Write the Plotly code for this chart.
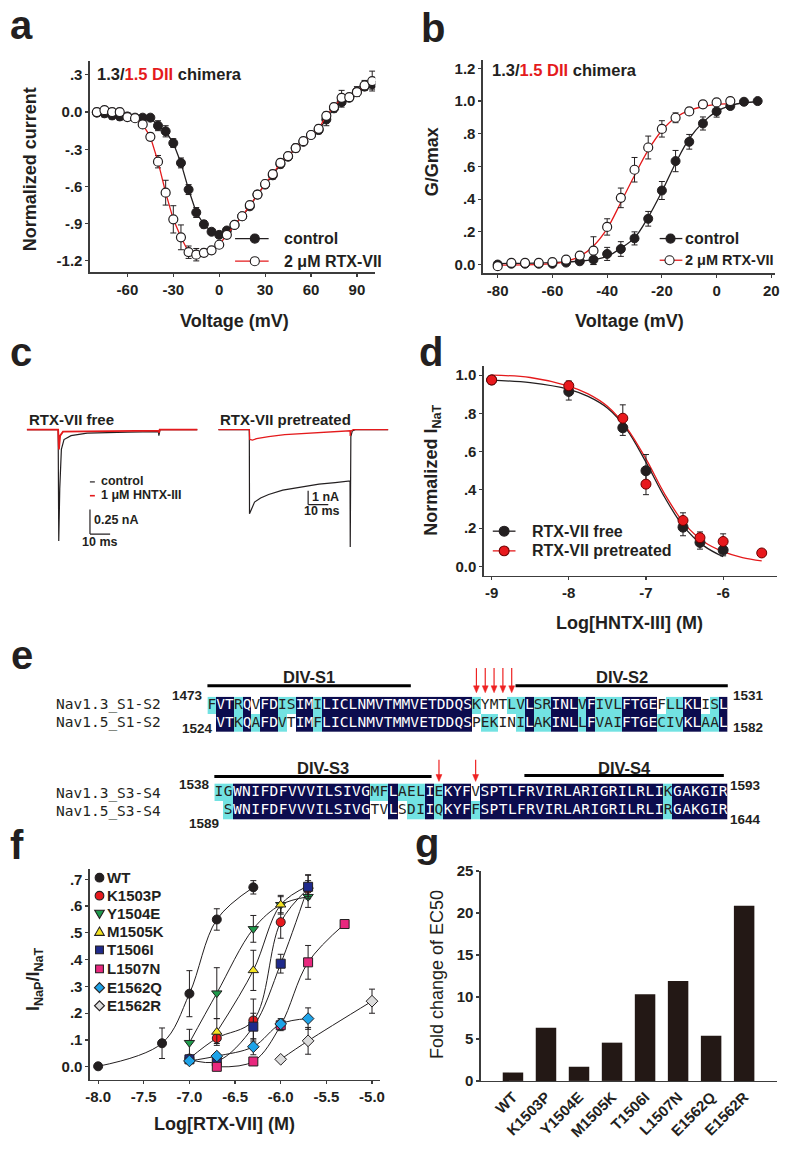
import plotly.graph_objects as go

W, H = 795, 1151
FONT = "Liberation Sans, Arial, Helvetica, sans-serif"
MONO = "DejaVu Sans Mono, Liberation Mono, monospace"
INK = "#231f20"
AXC = "#3c3c3c"
RED = "#e41a1c"
NAVY = "#0c0c4e"
CYAN = "#72e2e2"

# ---------------- panel a : I-V ----------------
iv_v = [-80, -75, -70, -65, -60, -55, -50, -45, -40, -35, -30, -25, -20, -15, -10, -5, 0,
        5, 10, 15, 20, 25, 30, 35, 40, 45, 50, 55, 60, 65, 70, 75, 80, 85, 90, 95, 100]
iv_ctrl = [-0.005, -0.01, -0.027, -0.035, -0.035, -0.045, -0.045, -0.045, -0.11, -0.155, -0.25,
           -0.41, -0.625, -0.81, -0.905, -0.965, -0.99, -0.955, -0.91, -0.84, -0.76, -0.665,
           -0.585, -0.51, -0.42, -0.36, -0.29, -0.24, -0.185, -0.145, -0.06, 0.03, 0.08, 0.115,
           0.165, 0.205, 0.225]
iv_ctrl_err = [0.03, 0.03, 0.03, 0.03, 0.03, 0.02, 0.02, 0.02, 0.04, 0.045, 0.035, 0.04, 0.04,
               0.04, 0.03, 0.02, 0.02, 0.02, 0.02, 0.02, 0.02, 0.03, 0.03, 0.03, 0.03, 0.03,
               0.03, 0.02, 0.02, 0.03, 0.05, 0.03, 0.04, 0.03, 0.04, 0.03, 0.04]
iv_rtx = [0.0, 0.015, 0.0, 0.0, -0.04, -0.05, -0.1, -0.2, -0.4, -0.65, -0.865, -1.01, -1.13,
          -1.15, -1.135, -1.115, -1.07, -0.99, -0.91, -0.84, -0.75, -0.665, -0.58, -0.5, -0.41,
          -0.355, -0.29, -0.235, -0.185, -0.135, -0.03, 0.04, 0.115, 0.12, 0.16, 0.215, 0.25]
iv_rtx_err = [0.03, 0.03, 0.03, 0.03, 0.02, 0.02, 0.02, 0.03, 0.05, 0.1, 0.11, 0.1, 0.05, 0.05,
              0.03, 0.02, 0.02, 0.02, 0.02, 0.02, 0.02, 0.02, 0.03, 0.03, 0.03, 0.03, 0.03,
              0.02, 0.02, 0.03, 0.03, 0.03, 0.06, 0.03, 0.03, 0.04, 0.08]

# ---------------- panel b : G-V ----------------
gv_v_ctrl = [-80, -75, -70, -65, -60, -55, -50, -45, -40, -35, -30, -25, -20, -15, -10, -5, 0, 5, 10, 15]
gv_ctrl = [0.0, 0.005, 0.005, 0.005, 0.005, 0.012, 0.02, 0.03, 0.065, 0.095, 0.16, 0.28, 0.453,
           0.633, 0.751, 0.863, 0.937, 0.97, 0.996, 1.0]
gv_ctrl_err = [0.015, 0.015, 0.015, 0.015, 0.015, 0.015, 0.015, 0.03, 0.04, 0.045, 0.04, 0.045,
               0.055, 0.065, 0.045, 0.04, 0.035, 0.02, 0.01, 0.0]
gv_v_rtx = [-80, -75, -70, -65, -60, -55, -50, -45, -40, -35, -30, -25, -20, -15, -10, -5, 0, 5]
gv_rtx = [-0.01, 0.01, 0.01, 0.01, 0.015, 0.03, 0.055, 0.085, 0.23, 0.408, 0.58, 0.716, 0.83,
          0.898, 0.937, 0.98, 0.992, 1.0]
gv_rtx_err = [0.02, 0.02, 0.015, 0.015, 0.015, 0.015, 0.02, 0.085, 0.05, 0.06, 0.075, 0.07,
              0.05, 0.03, 0.02, 0.02, 0.01, 0.01]
# fitted Boltzmann curves
gv_fit_v_ctrl = [-80, -60, -50, -45, -40, -35, -30, -25, -20, -15, -10, -5, 0, 5, 10, 15]
gv_fit_ctrl = [0.006, 0.012, 0.02, 0.03, 0.05, 0.1, 0.163, 0.29, 0.447, 0.62, 0.77, 0.87, 0.937,
               0.973, 0.99, 0.996]
gv_fit_v_rtx = [-80, -60, -55, -50, -45, -40, -35, -30, -25, -20, -15, -10, -5, 0, 5]
gv_fit_rtx = [-0.004, 0.005, 0.02, 0.05, 0.114, 0.22, 0.38, 0.545, 0.7, 0.82, 0.9, 0.943, 0.967,
              0.98, 0.985]

# ---------------- panel c : current traces (ms, nA) ----------------
free_t_ctrl = [0, 15.6, 15.9, 16.4, 17.2, 18.5, 22, 30, 50, 65.4, 65.6, 66.2, 84.8]
free_i_ctrl = [0, 0, -1.13, -0.6, -0.2, -0.1, -0.06, -0.035, -0.025, -0.02, -0.06, 0, 0]
free_t_tox = [0, 15.6, 16.0, 16.6, 18, 65.4, 65.6, 66, 84.8]
free_i_tox = [0, 0, -0.2, -0.06, -0.02, -0.01, -0.03, 0, 0]
pre_t_ctrl = [0, 15.4, 15.5, 16.5, 18, 21, 25, 32, 41, 50, 58, 65.4, 65.5, 65.8, 66.5, 68, 84.8]
pre_i_ctrl = [0, 0, -6.1, -5.7, -5.25, -4.95, -4.7, -4.38, -4.14, -3.95, -3.84, -3.72, -8.5,
              -0.5, -0.1, 0, 0]
pre_t_tox = [0, 15.4, 15.6, 17, 19, 25, 33, 41, 50, 58, 65.4, 65.5, 65.8, 67, 84.8]
pre_i_tox = [0, 0, -0.71, -0.75, -0.65, -0.5, -0.36, -0.28, -0.2, -0.15, -0.08, -0.45, -0.1, 0, 0]

# ---------------- panel d : HNTX-III dose response ----------------
d_x_free = [-9, -8, -7.3, -7, -6.52, -6.3, -6]
d_y_free = [0.975, 0.915, 0.725, 0.50, 0.205, 0.125, 0.085]
d_e_free = [0.02, 0.045, 0.04, 0.085, 0.045, 0.035, 0.03]
d_x_pre = [-9, -8, -7.3, -7, -6.52, -6.3, -6, -5.5]
d_y_pre = [0.975, 0.945, 0.775, 0.43, 0.24, 0.15, 0.13, 0.07]
d_e_pre = [0.02, 0.025, 0.07, 0.055, 0.04, 0.03, 0.04, 0.015]
d_fit_x_free = [-9, -8.5, -8, -7.75, -7.5, -7.25, -7, -6.75, -6.5, -6.25, -6]
d_fit_free = [0.974, 0.961, 0.926, 0.889, 0.828, 0.717, 0.545, 0.356, 0.201, 0.107, 0.05]
d_fit_x_pre = [-9, -8.5, -8, -7.75, -7.5, -7.25, -7, -6.75, -6.5, -6.25, -6, -5.75, -5.5]
d_fit_pre = [1.0, 0.988, 0.943, 0.902, 0.837, 0.725, 0.562, 0.373, 0.222, 0.129, 0.077, 0.046, 0.029]

# ---------------- panel e : alignment ----------------
s12_names = ["Nav1.3_S1-S2", "Nav1.5_S1-S2"]
s12_seq = ["FVTRQVFDISIMILICLNMVTMMVETDDQSKYMTLVLSRINLVFIVLFTGEFLLKLISL",
           "-VTKQAFDVTIMFLICLNMVTMMVETDDQSPEKINILAKINLLFVAIFTGECIVKLAAL"]
s12_cls = ["cnncnwnnccnncnnnnnnnnnnnnnnnnncwwwccnccnnncncccnnnnwccnnwcn",
           "-nncncnncwnncnnnnnnnnnnnnnnnnnwccwwcnccnnncncccnnnncccnnccn"]
s12_start = ["1473", "1524"]
s12_end = ["1531", "1582"]
s34_names = ["Nav1.3_S3-S4", "Nav1.5_S3-S4"]
s34_seq = ["IGWNIFDFVVVILSIVGMFLAELIEKYFVSPTLFRVIRLARIGRILRLIKGAKGIR",
           "-SWNIFDFVVVILSIVGTVLSDIIQKYFFSPTLFRVIRLARIGRILRLIRGAKGIR"]
s34_cls = ["ccnnnnnnnnnnnnnnnccncccncnnnwnnnnnnnnnnnnnnnnnnnncnnnnnn",
           "-cnnnnnnnnnnnnnnnwwnwccncnnncnnnnnnnnnnnnnnnnnnnncnnnnnn"]
s34_start = ["1538", "1589"]
s34_end = ["1593", "1644"]
s12_arrows = [31, 32, 33, 34, 35]
s34_arrows = [25, 29]

# ---------------- panel f : RTX-VII dose response ----------------
f_series = ["WT", "K1503P", "Y1504E", "M1505K", "T1506I", "L1507N", "E1562Q", "E1562R"]
f_x = {
    "WT": [-8.0, -7.3, -7.0, -6.7, -6.3],
    "K1503P": [-7.0, -6.7, -6.3, -6.0, -5.7],
    "Y1504E": [-7.0, -6.7, -6.3, -6.0, -5.7],
    "M1505K": [-6.7, -6.3, -6.0, -5.7],
    "T1506I": [-7.0, -6.7, -6.3, -6.0, -5.7],
    "L1507N": [-6.7, -6.3, -6.0, -5.7, -5.3],
    "E1562Q": [-7.0, -6.7, -6.3, -6.0, -5.7],
    "E1562R": [-6.0, -5.7, -5.0],
}
f_y = {
    "WT": [0.002, 0.088, 0.273, 0.55, 0.67],
    "K1503P": [0.031, 0.107, 0.173, 0.54, 0.665],
    "Y1504E": [0.09, 0.275, 0.515, 0.605, 0.635],
    "M1505K": [0.13, 0.36, 0.605, 0.675],
    "T1506I": [0.028, 0.02, 0.15, 0.385, 0.672],
    "L1507N": [0.0, 0.02, 0.155, 0.39, 0.533],
    "E1562Q": [0.022, 0.04, 0.075, 0.16, 0.18],
    "E1562R": [0.028, 0.097, 0.245],
}
f_err = {
    "WT": [0.0, 0.057, 0.086, 0.04, 0.025],
    "K1503P": [0.01, 0.02, 0.08, 0.06, 0.03],
    "Y1504E": [0.05, 0.095, 0.05, 0.035, 0.04],
    "M1505K": [0.05, 0.075, 0.03, 0.04],
    "T1506I": [0.01, 0.01, 0.05, 0.035, 0.045],
    "L1507N": [0.005, 0.01, 0.02, 0.063, 0.0],
    "E1562Q": [0.01, 0.01, 0.03, 0.02, 0.04],
    "E1562R": [0.005, 0.05, 0.045],
}
f_symbol = {"WT": "circle", "K1503P": "circle", "Y1504E": "triangle-down", "M1505K": "triangle-up",
            "T1506I": "square", "L1507N": "square", "E1562Q": "diamond", "E1562R": "diamond"}
f_color = {"WT": "#231f20", "K1503P": "#e8191d", "Y1504E": "#1f9a4c", "M1505K": "#f3e321",
           "T1506I": "#1f2a8c", "L1507N": "#e8287e", "E1562Q": "#1ea3e8", "E1562R": "#dcdcdc"}

# ---------------- panel g : fold change ----------------
g_cats = ["WT", "K1503P", "Y1504E", "M1505K", "T1506I", "L1507N", "E1562Q", "E1562R"]
g_fold = [1.0, 6.33, 1.69, 4.56, 10.34, 11.9, 5.38, 20.87]


# ================= helpers =================
def xd(x0, x1):
    return [x0 / W, x1 / W]


def yd(y0, y1):
    return [1 - y1 / H, 1 - y0 / H]


def px(x):
    return x / W


def py(y):
    return 1 - y / H


annotations = []
shapes = []


def text(x, y, s, size=15, bold=True, color=INK, xanchor="center", yanchor="middle",
         angle=0, family=FONT):
    annotations.append(dict(x=px(x), y=py(y), xref="paper", yref="paper", text=s,
                            showarrow=False, xanchor=xanchor, yanchor=yanchor, textangle=angle,
                            font=dict(family=family, size=size, color=color,
                                      weight="bold" if bold else "normal")))


def axis(domain, rng, anchor, tickvals=None, ticktext=None, **kw):
    d = dict(domain=domain, range=rng, anchor=anchor, showline=True, linecolor=AXC,
             linewidth=1.5, ticks="outside", ticklen=3, tickwidth=1.2, tickcolor=AXC,
             showgrid=False, zeroline=False, mirror=False,
             tickfont=dict(family=FONT, size=15, color=INK, weight="bold"))
    if tickvals is not None:
        d.update(tickmode="array", tickvals=tickvals, ticktext=ticktext)
    d.update(kw)
    return d


def hidden(domain, rng, anchor):
    return dict(domain=domain, range=rng, anchor=anchor, visible=False, showgrid=False,
                zeroline=False, fixedrange=True)


def pline(x0, y0, x1, y1, color, width):
    shapes.append(dict(type="line", xref="paper", yref="paper", x0=px(x0), x1=px(x1),
                       y0=py(y0), y1=py(y1), line=dict(color=color, width=width)))


def marker_shape(kind, x, y, fill, edge=INK, r=4.6):
    if kind == "circle":
        shapes.append(dict(type="circle", xref="paper", yref="paper", x0=px(x - r),
                           x1=px(x + r), y0=py(y + r), y1=py(y - r), fillcolor=fill,
                           line=dict(color=edge, width=1.1)))
        return
    if kind == "square":
        pts = [(x - r * 0.9, y - r * 0.9), (x + r * 0.9, y - r * 0.9),
               (x + r * 0.9, y + r * 0.9), (x - r * 0.9, y + r * 0.9)]
    elif kind == "triangle-up":
        pts = [(x, y - r * 1.1), (x + r * 1.1, y + r * 0.8), (x - r * 1.1, y + r * 0.8)]
    elif kind == "triangle-down":
        pts = [(x, y + r * 1.1), (x + r * 1.1, y - r * 0.8), (x - r * 1.1, y - r * 0.8)]
    else:  # diamond
        pts = [(x, y - r * 1.15), (x + r * 1.15, y), (x, y + r * 1.15), (x - r * 1.15, y)]
    path = "M " + " L ".join(f"{px(a):.6f},{py(b):.6f}" for a, b in pts) + " Z"
    shapes.append(dict(type="path", xref="paper", yref="paper", path=path, fillcolor=fill,
                       line=dict(color=edge, width=1.1)))


def arrow_down(x, y_top, y_tip, color="#ee2222"):
    pline(x, y_top, x, y_tip - 5, color, 1.2)
    pts = [(x, y_tip), (x - 3, y_tip - 7), (x + 3, y_tip - 7)]
    path = "M " + " L ".join(f"{px(a):.6f},{py(b):.6f}" for a, b in pts) + " Z"
    shapes.append(dict(type="path", xref="paper", yref="paper", path=path, fillcolor=color,
                       line=dict(color=color, width=0.5)))


fig = go.Figure()
EB = dict(type="data", color=INK, thickness=1, width=3)

# ---- a
fig.add_trace(go.Scatter(x=iv_v, y=iv_ctrl, mode="lines+markers", xaxis="x", yaxis="y",
                         line=dict(color=INK, width=1.3),
                         marker=dict(size=9, color=INK, line=dict(color=INK, width=1)),
                         error_y=dict(array=iv_ctrl_err, **EB), showlegend=False))
fig.add_trace(go.Scatter(x=iv_v, y=iv_rtx, mode="lines+markers", xaxis="x", yaxis="y",
                         line=dict(color=RED, width=1.3),
                         marker=dict(size=9, color="white", line=dict(color=INK, width=1.2)),
                         error_y=dict(array=iv_rtx_err, **EB), showlegend=False))

# ---- b
fig.add_trace(go.Scatter(x=gv_fit_v_ctrl, y=gv_fit_ctrl, mode="lines", line_shape="spline",
                         xaxis="x2", yaxis="y2", line=dict(color=INK, width=1.3),
                         showlegend=False, hoverinfo="skip"))
fig.add_trace(go.Scatter(x=gv_fit_v_rtx, y=gv_fit_rtx, mode="lines", line_shape="spline",
                         xaxis="x2", yaxis="y2", line=dict(color=RED, width=1.3),
                         showlegend=False, hoverinfo="skip"))
fig.add_trace(go.Scatter(x=gv_v_ctrl, y=gv_ctrl, mode="markers", xaxis="x2", yaxis="y2",
                         marker=dict(size=9, color=INK, line=dict(color=INK, width=1)),
                         error_y=dict(array=gv_ctrl_err, **EB), showlegend=False))
fig.add_trace(go.Scatter(x=gv_v_rtx, y=gv_rtx, mode="markers", xaxis="x2", yaxis="y2",
                         marker=dict(size=9, color="white", line=dict(color=INK, width=1.2)),
                         error_y=dict(array=gv_rtx_err, **EB), showlegend=False))

# ---- c
fig.add_trace(go.Scatter(x=free_t_ctrl, y=free_i_ctrl, mode="lines", xaxis="x3", yaxis="y3",
                         line=dict(color=INK, width=1.2), showlegend=False))
fig.add_trace(go.Scatter(x=free_t_tox, y=free_i_tox, mode="lines", xaxis="x3", yaxis="y3",
                         line=dict(color=RED, width=1.8), showlegend=False))
fig.add_trace(go.Scatter(x=pre_t_ctrl, y=pre_i_ctrl, mode="lines", xaxis="x4", yaxis="y4",
                         line=dict(color=INK, width=1.2), showlegend=False))
fig.add_trace(go.Scatter(x=pre_t_tox, y=pre_i_tox, mode="lines", xaxis="x4", yaxis="y4",
                         line=dict(color=RED, width=1.3), showlegend=False))

# ---- d
fig.add_trace(go.Scatter(x=d_fit_x_free, y=d_fit_free, mode="lines", line_shape="spline",
                         xaxis="x5", yaxis="y5", line=dict(color=INK, width=1.3),
                         showlegend=False, hoverinfo="skip"))
fig.add_trace(go.Scatter(x=d_fit_x_pre, y=d_fit_pre, mode="lines", line_shape="spline",
                         xaxis="x5", yaxis="y5", line=dict(color=RED, width=1.3),
                         showlegend=False, hoverinfo="skip"))
fig.add_trace(go.Scatter(x=d_x_free, y=d_y_free, mode="markers", xaxis="x5", yaxis="y5",
                         marker=dict(size=10, color=INK, line=dict(color=INK, width=1)),
                         error_y=dict(array=d_e_free, **EB), showlegend=False))
fig.add_trace(go.Scatter(x=d_x_pre, y=d_y_pre, mode="markers", xaxis="x5", yaxis="y5",
                         marker=dict(size=10, color="#e8191d", line=dict(color="#6b0000", width=1)),
                         error_y=dict(array=d_e_pre, **EB), showlegend=False))

# ---- e (alignment blocks as heatmaps + letters)
CODE = {"w": 0, "c": 1, "n": 2, "-": None}
CSCALE = [[0, "#ffffff"], [0.5, CYAN], [1, NAVY]]


def add_block(seqs, clss, xa, ya):
    ncol = len(seqs[0])
    z = [[CODE[ch] for ch in cl] for cl in clss]
    fig.add_trace(go.Heatmap(z=z, x=list(range(1, ncol + 1)), y=[0, 1], xaxis=xa, yaxis=ya,
                             colorscale=CSCALE, zmin=0, zmax=2, showscale=False,
                             hoverinfo="skip"))
    tx, ty, tt, tc = [], [], [], []
    for r, (s, cl) in enumerate(zip(seqs, clss)):
        for i, (ch, c) in enumerate(zip(s, cl)):
            if ch == "-":
                continue
            tx.append(i + 1)
            ty.append(r)
            tt.append(ch)
            tc.append("white" if c == "n" else INK)
    fig.add_trace(go.Scatter(x=tx, y=ty, text=tt, mode="text", xaxis=xa, yaxis=ya,
                             textfont=dict(family=MONO, size=14.5, color=tc),
                             showlegend=False, hoverinfo="skip"))


add_block(s12_seq, s12_cls, "x6", "y6")
add_block(s34_seq, s34_cls, "x7", "y7")

# ---- f
for name in f_series:
    fig.add_trace(go.Scatter(x=f_x[name], y=f_y[name], mode="lines", line_shape="spline",
                             xaxis="x8", yaxis="y8", line=dict(color=INK, width=1),
                             showlegend=False, hoverinfo="skip"))
for name in f_series:
    fig.add_trace(go.Scatter(x=f_x[name], y=f_y[name], mode="markers", name=name,
                             xaxis="x8", yaxis="y8",
                             marker=dict(symbol=f_symbol[name], size=9, color=f_color[name],
                                         line=dict(color=INK, width=1)),
                             error_y=dict(array=f_err[name], **EB), showlegend=False))

# ---- g
fig.add_trace(go.Bar(x=g_cats, y=g_fold, xaxis="x9", yaxis="y9", width=0.62,
                     marker=dict(color="#231815", line=dict(width=0)), showlegend=False))

# ================= axes =================
layout_axes = dict(
    xaxis=axis(xd(86, 375), [-84.5, 102], "y", [-60, -30, 0, 30, 60, 90],
               ["-60", "-30", "0", "30", "60", "90"]),
    yaxis=axis(yd(53, 267), [-1.29, 0.41], "x", [0.3, 0, -0.3, -0.6, -0.9, -1.2],
               [".3", "0.0", "-.3", "-.6", "-.9", "-1.2"]),
    xaxis2=axis(xd(484, 780), [-85.4, 21.4], "y2", [-80, -60, -40, -20, 0, 20],
                ["-80", "-60", "-40", "-20", "0", "20"]),
    yaxis2=axis(yd(52, 268), [-0.052, 1.25], "x2", [0, 0.2, 0.4, 0.6, 0.8, 1.0, 1.2],
                ["0.0", ".2", ".4", ".6", ".8", "1.0", "1.2"]),
    xaxis3=hidden(xd(22, 195), [0, 84.8], "y3"),
    yaxis3=hidden(yd(410, 550), [-1.23, 0.17], "x3"),
    xaxis4=hidden(xd(216, 388), [0, 84.3], "y4"),
    yaxis4=hidden(yd(410, 550), [-8.786, 1.214], "x4"),
    xaxis5=axis(xd(485, 782), [-9.1, -5.3], "y5", [-9, -8, -7, -6], ["-9", "-8", "-7", "-6"]),
    yaxis5=axis(yd(362, 575), [-0.048, 1.05], "x5", [0, 0.2, 0.4, 0.6, 0.8, 1.0],
                ["0.0", ".2", ".4", ".6", ".8", "1.0"]),
    xaxis6=hidden(xd(205, 732), [0.5, 59.5], "y6"),
    yaxis6=hidden(yd(698, 734), [1.5, -0.5], "x6"),
    xaxis7=hidden(xd(212, 732), [0.5, 56.5], "y7"),
    yaxis7=hidden(yd(786, 823), [1.5, -0.5], "x7"),
    xaxis8=axis(xd(86, 380), [-8.09, -4.91], "y8", [-8, -7.5, -7, -6.5, -6, -5.5, -5],
                ["-8.0", "-7.5", "-7.0", "-6.5", "-6.0", "-5.5", "-5.0"]),
    yaxis8=axis(yd(873, 1087), [-0.049, 0.738], "x8", [0, 0.1, 0.2, 0.3, 0.4, 0.5, 0.6, 0.7],
                ["0.0", ".1", ".2", ".3", ".4", ".5", ".6", ".7"]),
    xaxis9=axis(xd(482, 782), [-0.97, 8.0], "y9", type="category", tickangle=-45, ticks=""),
    yaxis9=axis(yd(875, 1088), [0, 25], "x9", [0, 5, 10, 15, 20, 25],
                ["0", "5", "10", "15", "20", "25"]),
)

# ================= texts =================
# panel letters
text(3, 16, "a", size=40, xanchor="left")
text(419, 19, "b", size=40, xanchor="left")
text(3, 348, "c", size=40, xanchor="left")
text(417, 348, "d", size=40, xanchor="left")
text(4, 656, "e", size=40, xanchor="left")
text(3, 849, "f", size=40, xanchor="left")
text(413, 846, "g", size=40, xanchor="left")

CHIM = "1.3/<span style='color:#e41a1c'>1.5 DII</span> chimera"
text(91, 66, CHIM, size=16.5, xanchor="left")
text(491, 62, CHIM, size=16.5, xanchor="left")

# axis titles
text(25, 163, "Normalized current", size=18, angle=-90)
text(232, 317, "Voltage (mV)", size=18)
text(432, 155, "G/Gmax", size=18, angle=-90)
text(632, 317, "Voltage (mV)", size=18)
text(433, 468, "Normalized I<sub>NaT</sub>", size=18, angle=-90)
text(632, 623, "Log[HNTX-III] (M)", size=18)
text(30, 985, "I<sub>NaP</sub>/I<sub>NaT</sub>", size=18, angle=-90)
text(222, 1132, "Log[RTX-VII] (M)", size=18)
text(437, 980, "Fold change of EC50", size=18, bold=False, angle=-90)

# legends a, b, d
pline(233, 233, 267, 233, INK, 1.3)
marker_shape("circle", 253, 233, INK)
pline(233, 256, 267, 256, RED, 1.3)
marker_shape("circle", 253, 256, "white")
text(281, 233, "control", size=16, xanchor="left")
text(281, 256, "2 μM RTX-VII", size=16, xanchor="left")
pline(663, 233, 686, 233, INK, 1.3)
marker_shape("circle", 674, 233, INK)
pline(663, 255, 686, 255, RED, 1.3)
marker_shape("circle", 673, 255, "white")
text(687, 233, "control", size=16, xanchor="left")
text(687, 255, "2 μM RTX-VII", size=14.5, xanchor="left")
pline(494, 530, 517, 530, INK, 1.3)
marker_shape("circle", 505.5, 530, INK, r=5)
pline(494, 550, 517, 550, RED, 1.3)
marker_shape("circle", 505.5, 550, "#e8191d", edge="#6b0000", r=5)
text(532, 530, "RTX-VII free", size=16, xanchor="left")
text(532, 550, "RTX-VII pretreated", size=16, xanchor="left")

# legend f
f_leg_y = [881.7, 900, 918.3, 936.7, 955, 974.3, 993.3, 1011.7]
for name, yy in zip(f_series, f_leg_y):
    marker_shape(f_symbol[name], 95.7, yy, f_color[name], r=4.4)
    text(101, yy, name, size=15, xanchor="left")

# panel c texts and scale bars
text(22, 417, "RTX-VII free", size=15, xanchor="left")
text(216, 417, "RTX-VII pretreated", size=15, xanchor="left")
pline(86, 480, 91, 480, INK, 1.2)
pline(86, 494, 91, 494, RED, 1.6)
text(95, 479, "control", size=12.5, xanchor="left")
text(95, 493, "1 μM HNTX-III", size=12.5, xanchor="left")
text(88, 519, "0.25 nA", size=12.5, xanchor="left")
text(96, 541, "10 ms", size=12.5)
text(309, 495, "1 nA", size=12.5, xanchor="left")
text(321, 510, "10 ms", size=12.5)
# scale bars (in trace units)
shapes.append(dict(type="line", xref="x3", yref="y3", x0=31.4, x1=31.4, y0=-0.81, y1=-1.06,
                   line=dict(color=INK, width=1.2)))
shapes.append(dict(type="line", xref="x3", yref="y3", x0=31.4, x1=41.4, y0=-1.06, y1=-1.06,
                   line=dict(color=INK, width=1.2)))
shapes.append(dict(type="line", xref="x4", yref="y4", x0=44.6, x1=44.6, y0=-4.43, y1=-5.43,
                   line=dict(color=INK, width=1.2)))
shapes.append(dict(type="line", xref="x4", yref="y4", x0=44.6, x1=54.6, y0=-5.43, y1=-5.43,
                   line=dict(color=INK, width=1.2)))

# panel e texts
for r, nm in enumerate(s12_names):
    text(50, 706 + 18 * r, nm, size=14.5, bold=False, family=MONO, xanchor="left")
for r, nm in enumerate(s34_names):
    text(50, 796 + 18.5 * r, nm, size=14.5, bold=False, family=MONO, xanchor="left")
text(203, 697, s12_start[0], size=13.5, xanchor="right")
text(213, 730, s12_start[1], size=13.5, xanchor="right")
text(735, 697, s12_end[0], size=13.5, xanchor="left")
text(735, 729, s12_end[1], size=13.5, xanchor="left")
text(210, 787, s34_start[0], size=13.5, xanchor="right")
text(219, 827, s34_start[1], size=13.5, xanchor="right")
text(732, 788, s34_end[0], size=13.5, xanchor="left")
text(732, 823, s34_end[1], size=13.5, xanchor="left")
for lab, x0, x1, yl, yt in [("DIV-S1", 205, 411, 687, 678), ("DIV-S2", 517, 732, 687, 678),
                            ("DIV-S3", 212, 432, 779, 770), ("DIV-S4", 526, 728, 778, 770)]:
    pline(x0, yl, x1, yl, "black", 3)
    text((x0 + x1) / 2, yt, lab, size=16.5)
S12_X0, S12_CW = 205, (732 - 205) / 59
S34_X0, S34_CW = 212, (732 - 212) / 56
for c in s12_arrows:
    arrow_down(S12_X0 + (c - 0.5) * S12_CW, 669, 694)
for c in s34_arrows:
    arrow_down(S34_X0 + (c - 0.5) * S34_CW, 762, 784)

fig.update_layout(
    width=W, height=H, margin=dict(l=0, r=0, t=0, b=0), autosize=False,
    paper_bgcolor="white", plot_bgcolor="white",
    font=dict(family=FONT, color=INK),
    annotations=annotations, shapes=shapes, showlegend=False, hovermode=False,
    **layout_axes,
)

fig.write_html("out.html", config={"displayModeBar": False, "staticPlot": True},
               post_script="document.body.style.margin='0';")
